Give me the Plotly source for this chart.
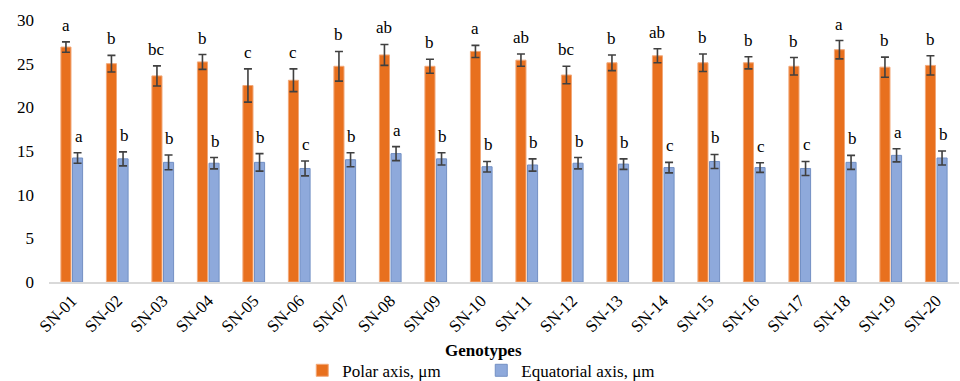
import plotly.graph_objects as go

genotypes = ["SN-01", "SN-02", "SN-03", "SN-04", "SN-05", "SN-06", "SN-07", "SN-08", "SN-09", "SN-10",
             "SN-11", "SN-12", "SN-13", "SN-14", "SN-15", "SN-16", "SN-17", "SN-18", "SN-19", "SN-20"]
polar = [26.9, 25.0, 23.6, 25.2, 22.5, 23.1, 24.7, 26.0, 24.7, 26.4,
         25.4, 23.7, 25.1, 25.9, 25.1, 25.1, 24.7, 26.6, 24.6, 24.8]
polar_err = [0.6, 0.95, 1.15, 0.85, 1.9, 1.3, 1.7, 1.2, 0.8, 0.7,
             0.7, 1.0, 0.9, 0.8, 1.0, 0.7, 1.0, 1.05, 1.15, 1.1]
polar_letters = ["a", "b", "bc", "b", "c", "c", "b", "ab", "b", "a",
                 "ab", "bc", "b", "ab", "b", "b", "b", "a", "b", "b"]
equatorial = [14.2, 14.1, 13.7, 13.6, 13.7, 13.0, 14.0, 14.7, 14.1, 13.2,
              13.4, 13.6, 13.5, 13.1, 13.8, 13.1, 13.0, 13.7, 14.5, 14.2]
equatorial_err = [0.6, 0.8, 0.85, 0.65, 1.0, 0.85, 0.8, 0.8, 0.7, 0.6,
                  0.7, 0.65, 0.6, 0.6, 0.8, 0.55, 0.8, 0.8, 0.75, 0.8]
equatorial_letters = ["a", "b", "b", "b", "b", "c", "b", "a", "b", "b",
                      "b", "b", "b", "c", "b", "c", "c", "b", "a", "b"]

serif = "'Times New Roman', 'Liberation Serif', 'DejaVu Serif', serif"
orange = "#E8701E"
blue = "#8EA9DB"

fig = go.Figure()
fig.add_trace(go.Bar(
    x=genotypes, y=polar, name="Polar axis, μm",
    marker=dict(color=orange, line=dict(color="#F2A878", width=1)),
    error_y=dict(type="data", array=polar_err, color="#404040", thickness=1.6, width=4),
))
fig.add_trace(go.Bar(
    x=genotypes, y=equatorial, name="Equatorial axis, μm",
    marker=dict(color=blue, line=dict(color="#7390C4", width=1)),
    error_y=dict(type="data", array=equatorial_err, color="#404040", thickness=1.6, width=4),
))

annotations = []
for g, v, e, t in zip(genotypes, polar, polar_err, polar_letters):
    annotations.append(dict(x=g, y=v + e, text=t, xref="x", yref="y", showarrow=False,
                            xshift=-6, yshift=5, yanchor="bottom",
                            font=dict(family=serif, size=17, color="#000000")))
for g, v, e, t in zip(genotypes, equatorial, equatorial_err, equatorial_letters):
    annotations.append(dict(x=g, y=v + e, text=t, xref="x", yref="y", showarrow=False,
                            xshift=7, yshift=5, yanchor="bottom",
                            font=dict(family=serif, size=17, color="#000000")))
annotations.append(dict(x=0.477, y=-0.26, xref="paper", yref="paper", text="<b>Genotypes</b>",
                        showarrow=False, yanchor="middle",
                        font=dict(family=serif, size=17, color="#000000")))

fig.update_layout(
    width=960, height=381,
    margin=dict(l=49, r=1, t=20, b=99, autoexpand=False),
    paper_bgcolor="white", plot_bgcolor="white",
    barmode="group", bargap=0.49, bargroupgap=0.13,
    showlegend=True,
    legend=dict(orientation="h", x=0.475, xanchor="center", y=-0.27, yanchor="top",
                font=dict(family=serif, size=17, color="#000000"),
                itemwidth=30, tracegroupgap=0, entrywidth=134, entrywidthmode="pixels"),
    annotations=annotations,
    font=dict(family=serif, size=17, color="#000000"),
)
fig.update_xaxes(
    tickangle=-45, showgrid=False, showline=True, linecolor="#D9D9D9", linewidth=2,
    ticks="", automargin=False, tickfont=dict(family=serif, size=17, color="#000000"),
)
fig.update_yaxes(
    range=[0, 30], dtick=5, showgrid=False, zeroline=False, showline=False,
    ticks="", ticklabelstandoff=14, automargin=False,
    tickfont=dict(family=serif, size=17, color="#000000"),
)

fig.write_html("out.html")
